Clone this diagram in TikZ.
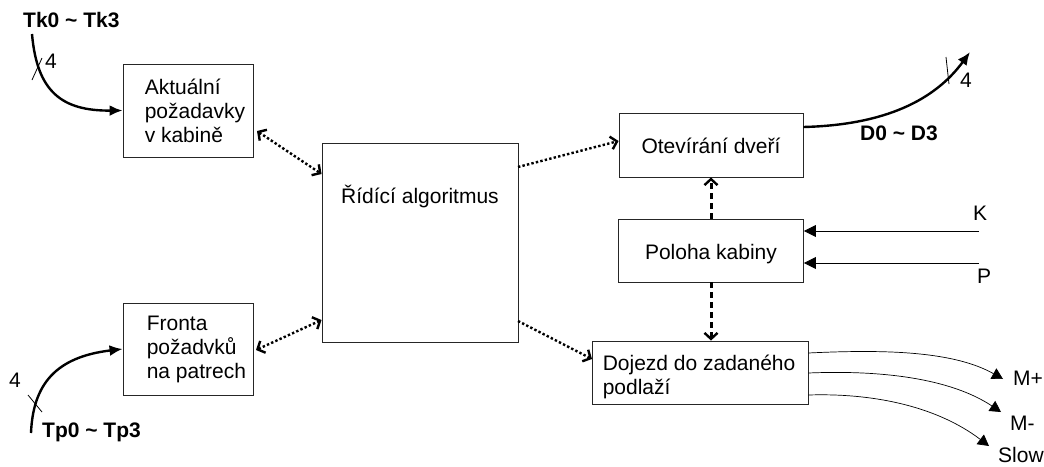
\documentclass[tikz,border=0pt]{standalone}
\usepackage{fontspec}
\setmainfont{Liberation Sans}
\usetikzlibrary{arrows.meta}

\begin{document}
\begin{tikzpicture}[x=1pt,y=-1pt,
  box/.style={draw=black!85, line width=0.9pt, inner sep=0pt, fill=white},
  txt/.style={inner sep=0pt, font=\fontsize{21}{24}\selectfont, align=left},
  lbl/.style={inner sep=0pt, font=\fontsize{21}{24}\selectfont},
  blbl/.style={inner sep=0pt, font=\fontsize{21}{24}\selectfont\bfseries},
  bus/.style={line width=2.4pt, -{Latex[length=13pt,width=11pt]}},
  tick/.style={line width=0.8pt},
  link/.style={line width=2.4pt, dash pattern=on 2.4pt off 2.2pt,
    {Straight Barb[length=6pt,width=13pt,line width=2.4pt]}-{Straight Barb[length=6pt,width=13pt,line width=2.4pt]}},
  flow/.style={line width=2.4pt, dash pattern=on 2.4pt off 2.2pt,
    -{Straight Barb[length=6pt,width=13pt,line width=2.4pt]}},
  vlink/.style={line width=3pt, dash pattern=on 6pt off 4pt,
    -{Straight Barb[length=6pt,width=13pt,line width=2.4pt]}},
  sig/.style={line width=0.8pt, -{Triangle[length=12pt,width=12pt]}},
  motor/.style={line width=0.7pt, -{Triangle[length=11pt,width=12pt]}}]

\useasboundingbox (0,0) rectangle (1044,466);

% blocks
\node[box, minimum width=130pt, minimum height=93pt] (akt) at (188,110.5) {};
\node[txt, anchor=west] (aktT) at ([xshift=22pt]akt.west) {Aktuální\\požadavky\\v kabině};

\node[box, minimum width=130pt, minimum height=92pt] (fro) at (188,349) {};
\node[txt, anchor=west] (froT) at ([xshift=24pt]fro.west) {Fronta\\požadvků\\na patrech};

\node[box, minimum width=196pt, minimum height=199pt] (alg) at (420,242.5) {};
\node[lbl, anchor=base] (algT) at (420,203) {Řídící algoritmus};

\node[box, minimum width=184pt, minimum height=64pt] (otv) at (711,145) {};
\node[lbl, anchor=base] (otvT) at (711,153) {Otevírání dveří};

\node[box, minimum width=185pt, minimum height=63pt] (pol) at (711,250.5) {};
\node[lbl, anchor=base] (polT) at (711,259) {Poloha kabiny};

\node[box, minimum width=216pt, minimum height=63pt] (doj) at (700,372.5) {};
\node[txt, anchor=west] (dojT) at ([xshift=11pt,yshift=-4pt]doj.west) {Dojezd do zadaného\\podlaží};

% free ends of the buses and signals
\coordinate (tkIn) at (32,34);
\coordinate (tpIn) at (31,433);
\coordinate (dOut) at (970,52);
\coordinate (kIn) at (979,231);
\coordinate (pIn) at (979,263);
\coordinate (mpOut) at (1003,379);
\coordinate (mmOut) at (1001,412);
\coordinate (slOut) at (989,446);

% input / output buses
\draw[bus] (tkIn) .. controls (37,92) and (62,111) .. (akt.west);
\draw[tick] (32,80) -- (42,58);
\node[blbl, anchor=base west] (tkL) at (23,27) {Tk0 \textasciitilde{} Tk3};
\node[lbl, anchor=base west] (tkN) at (45,68) {4};

\draw[bus] (tpIn) .. controls (33,385) and (55,357) .. (fro.west);
\draw[tick] (28,395) -- (42,412);
\node[blbl, anchor=base west] (tpL) at (42,437) {Tp0 \textasciitilde{} Tp3};
\node[lbl, anchor=base west] (tpN) at (9,387) {4};

\draw[bus] ([yshift=18pt]otv.east) .. controls (885,125) and (935,100) .. (dOut);
\draw[tick] (946,57) -- (949,84);
\node[blbl, anchor=base west] (dL) at (860,140) {D0 \textasciitilde{} D3};
\node[lbl, anchor=base west] (dN) at (960,87) {4};

% links between blocks
\draw[link] (257,131) -- (alg.west |- 0,174);
\draw[link] (256,350) -- (alg.west |- 0,320);
\draw[flow] (518,167) -- (otv.west |- 0,141);
\draw[flow] (518,321) -- (592,359);
\draw[vlink] (pol.north) -- (otv.south);
\draw[vlink] (pol.south) -- (pol.south |- doj.north);

% position sensors
\draw[sig] (kIn) -- (pol.east |- kIn);
\draw[sig] (pIn) -- (pol.east |- pIn);
\node[lbl, anchor=base west] (kL) at (973,220) {K};
\node[lbl, anchor=base west] (pL) at (977,283) {P};

% motor outputs
\draw[motor] (doj.east |- 0,353) .. controls (890,349) and (955,352) .. (mpOut);
\draw[motor] (doj.east |- 0,373) .. controls (880,370) and (950,378) .. (mmOut);
\draw[motor] (doj.east |- 0,395) .. controls (870,393) and (935,405) .. (slOut);
\node[lbl, anchor=base west] (mpL) at (1013,385) {M+};
\node[lbl, anchor=base west] (mmL) at (1010,430) {M-};
\node[lbl, anchor=base west] (slL) at (998,462) {Slow};

\end{tikzpicture}
\end{document}
